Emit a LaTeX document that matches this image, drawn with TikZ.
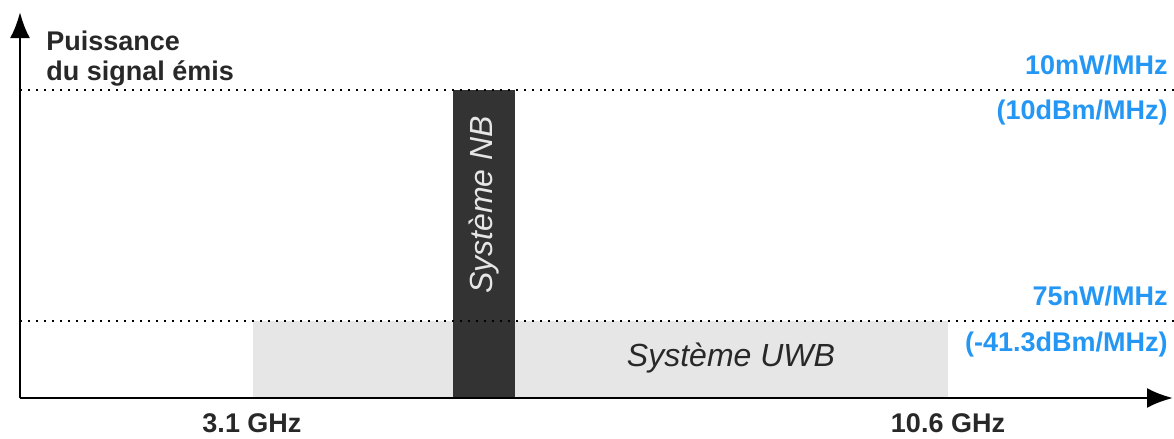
\documentclass[tikz,border=0pt]{standalone}
\usepackage{fontspec}
\setmainfont{Liberation Sans}
\usepackage{tikz}
\usetikzlibrary{arrows.meta,positioning}
\definecolor{levelblue}{RGB}{36,150,243}
\definecolor{nbgray}{RGB}{51,51,51}
\definecolor{uwbgray}{RGB}{230,230,230}
\definecolor{txtgray}{RGB}{40,40,40}

\begin{document}
\begin{tikzpicture}[x=0.5pt,y=-0.5pt,
    axis/.style={line width=1.4pt,-{Latex[length=13pt,width=10pt]}},
    level/.style={line width=1pt,dash pattern=on 1pt off 3pt},
    lbl/.style={font=\bfseries\fontsize{13.5}{15}\selectfont,inner sep=0pt,text=txtgray},
    bluelbl/.style={lbl,text=levelblue,anchor=east},
    band/.style={font=\itshape\fontsize{16}{18}\selectfont,inner sep=0pt}]
    \useasboundingbox (0,0) rectangle (1174,439);
    % bands
    \fill[uwbgray] (253,321) rectangle (948,398);
    \fill[nbgray] (453,90) rectangle (515,398);
    \node[band,text=txtgray] (uwb) at (731,358) {Système UWB};
    \node[band,text=uwbgray,rotate=90] (nb) at (484,205) {Système NB};
    % levels
    \coordinate (hi_l) at (20,90);   \coordinate (hi_r) at (1174,90);
    \coordinate (lo_l) at (20,321);  \coordinate (lo_r) at (1174,321);
    \draw[level] (hi_l) -- (hi_r);
    \draw[level] (lo_l) -- (lo_r);
    % axes
    \coordinate (O) at (20,398);
    \coordinate (ymax) at (20,12);
    \coordinate (xmax) at (1173,398);
    \draw[axis] (O) -- (ymax);
    \draw[axis] (O) -- (xmax);
    % labels
    \node[lbl,anchor=north west,align=left] (puiss) at (46,31) {Puissance\\du signal émis};
    \node[bluelbl] (mw)  at (1168,65)  {10mW/MHz};
    \node[bluelbl] (dbm) at (1168,113) {(10dBm/MHz)};
    \node[bluelbl] (nw)  at (1168,296) {75nW/MHz};
    \node[bluelbl] (dbm2) at (1168,345) {(-41.3dBm/MHz)};
    \node[lbl] (f_lo) at (252,423) {3.1 GHz};
    \node[lbl] (f_hi) at (948,423) {10.6 GHz};
\end{tikzpicture}
\end{document}
